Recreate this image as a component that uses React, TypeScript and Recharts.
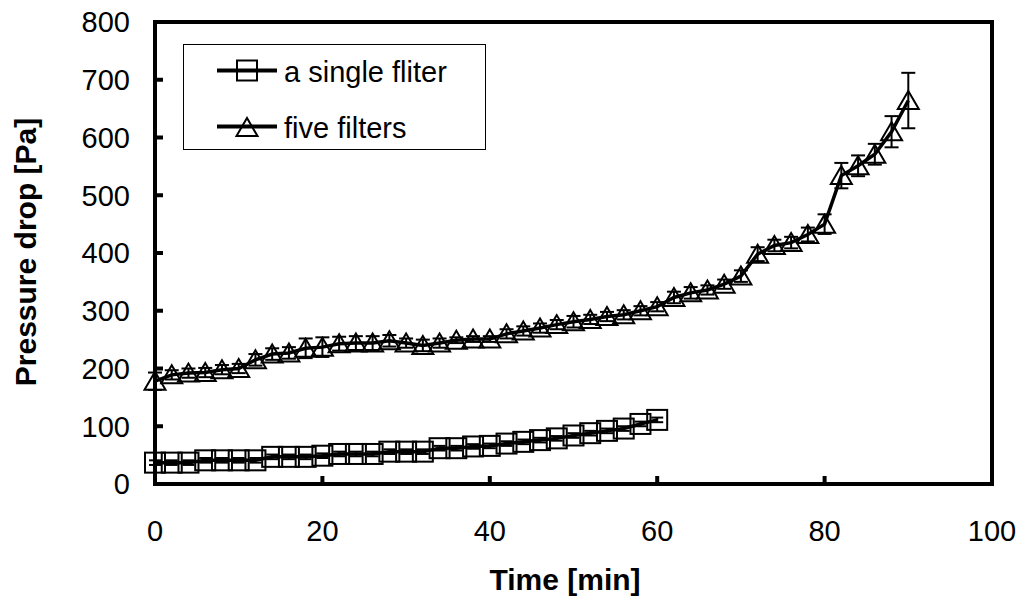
import { LineChart, Line, XAxis, YAxis, ErrorBar, ReferenceArea, Legend, Label } from "recharts";

const FONT = "'Liberation Sans', Arial, sans-serif";

// a single filter
const singleTime = [0, 2, 4, 6, 8, 10, 12, 14, 16, 18, 20, 22, 24, 26, 28, 30, 32, 34, 36, 38, 40, 42, 44, 46, 48, 50, 52, 54, 56, 58, 60];
const singleDrop = [37, 37, 37, 41, 41, 41, 41, 47, 47, 47, 49, 52, 52, 52, 56, 56, 56, 62, 62, 65, 66, 70, 73, 76, 79, 84, 88, 92, 96, 104, 111];
const singleErr = [4, 4, 4, 4, 4, 4, 4, 4, 4, 4, 4, 4, 4, 4, 4, 4, 4, 4, 4, 4, 4, 4, 4, 4, 4, 4, 4, 4, 4, 4, 4];

// five filters
const fiveTime = [0, 2, 4, 6, 8, 10, 12, 14, 16, 18, 20, 22, 24, 26, 28, 30, 32, 34, 36, 38, 40, 42, 44, 46, 48, 50, 52, 54, 56, 58, 60, 62, 64, 66, 68, 70, 72, 74, 76, 78, 80, 82, 84, 86, 88, 90];
const fiveDrop = [178, 189, 192, 193, 198, 200, 215, 225, 227, 235, 237, 243, 244, 244, 248, 244, 240, 244, 249, 251, 251, 260, 265, 270, 276, 281, 285, 290, 293, 300, 307, 323, 331, 336, 346, 360, 398, 413, 418, 432, 450, 534, 551, 571, 610, 664];
const fiveErr = [15, 8, 8, 8, 8, 8, 10, 10, 10, 17, 17, 12, 12, 12, 10, 8, 10, 8, 5, 5, 5, 8, 8, 8, 8, 10, 8, 8, 8, 8, 8, 10, 10, 8, 8, 10, 12, 10, 10, 12, 17, 22, 18, 18, 27, 48];

const xTicks = [0, 20, 40, 60, 80, 100];
const yTicks = [0, 100, 200, 300, 400, 500, 600, 700, 800];

const singleData = singleTime.map((t, i) => ({ t, v: singleDrop[i], e: singleErr[i] }));
const fiveData = fiveTime.map((t, i) => ({ t, v: fiveDrop[i], e: fiveErr[i] }));

function Square({ cx, cy, size = 20 }) {
    const h = size / 2;
    return <rect x={cx - h} y={cy - h} width={size} height={size} fill="none" stroke="#000" strokeWidth={2} />;
}

function Triangle({ cx, cy }) {
    const pts = `${cx},${cy - 9.5} ${cx - 10.5},${cy + 8.5} ${cx + 10.5},${cy + 8.5}`;
    return <polygon points={pts} fill="none" stroke="#000" strokeWidth={2} />;
}

const squareDot = (props) => {
    if (props.cx == null || props.cy == null) return <g key={`s-${props.index}`} />;
    return <g key={`s-${props.index}`}><Square cx={props.cx} cy={props.cy} /></g>;
};

const triangleDot = (props) => {
    if (props.cx == null || props.cy == null) return <g key={`t-${props.index}`} />;
    return <g key={`t-${props.index}`}><Triangle cx={props.cx} cy={props.cy} /></g>;
};

function LegendBox({ payload }) {
    const items = payload || [];
    return (
        <svg width={303} height={106} style={{ display: "block" }}>
            <rect x={0.5} y={0.5} width={302} height={105} fill="#fff" stroke="#000" strokeWidth={1} />
            {items.map((item, i) => {
                const cy = 26.5 + i * 56;
                return (
                    <g key={item.value}>
                        <line x1={34} x2={94} y1={cy} y2={cy} stroke="#000" strokeWidth={4} />
                        {i === 0 ? <Square cx={64} cy={cy} /> : <Triangle cx={64} cy={cy + 1} />}
                        <text x={101} y={cy + 11} fontSize={29} fontFamily={FONT} fill="#000">{item.value}</text>
                    </g>
                );
            })}
        </svg>
    );
}

export default function App() {
    return (
        <div style={{ position: "absolute", left: 0, top: 0, width: 1023, height: 601, background: "#fff", fontFamily: FONT }}>
            <LineChart width={1023} height={601} margin={{ top: 22, right: 31, bottom: 0, left: 0 }}>
                <XAxis
                    dataKey="t"
                    type="number"
                    domain={[0, 100]}
                    ticks={xTicks}
                    allowDuplicatedCategory={false}
                    height={117}
                    axisLine={{ stroke: "#000", strokeWidth: 4 }}
                    tickLine={{ stroke: "#000", strokeWidth: 4 }}
                    tickSize={-8}
                    tickMargin={44}
                    tick={{ fill: "#000", fontSize: 29, fontFamily: FONT }}
                >
                    <Label
                        content={() => (
                            <text x={565} y={590} textAnchor="middle" fontSize={30} fontWeight="bold" fontFamily={FONT} fill="#000">
                                Time [min]
                            </text>
                        )}
                    />
                </XAxis>
                <YAxis
                    type="number"
                    domain={[0, 800]}
                    ticks={yTicks}
                    width={155}
                    axisLine={{ stroke: "#000", strokeWidth: 4 }}
                    tickLine={{ stroke: "#000", strokeWidth: 4 }}
                    tickSize={-8}
                    tickMargin={33}
                    tick={{ fill: "#000", fontSize: 29, fontFamily: FONT }}
                >
                    <Label
                        content={() => (
                            <text
                                x={36}
                                y={252}
                                transform="rotate(-90 36 252)"
                                textAnchor="middle"
                                fontSize={30}
                                fontWeight="bold"
                                fontFamily={FONT}
                                fill="#000"
                            >
                                Pressure drop [Pa]
                            </text>
                        )}
                    />
                </YAxis>
                <ReferenceArea x1={0} x2={100} y1={0} y2={800} fill="none" stroke="#000" strokeWidth={4} ifOverflow="visible" />
                <Legend
                    layout="vertical"
                    align="center"
                    verticalAlign="middle"
                    content={<LegendBox />}
                    wrapperStyle={{ position: "absolute", left: 183, top: 44, width: 303, height: 106 }}
                />
                <Line
                    data={singleData}
                    dataKey="v"
                    name="a single fliter"
                    stroke="#000"
                    strokeWidth={3.5}
                    dot={squareDot}
                    activeDot={false}
                    isAnimationActive={false}
                >
                    <ErrorBar dataKey="e" direction="y" width={6} stroke="#000" strokeWidth={2} isAnimationActive={false} />
                </Line>
                <Line
                    data={fiveData}
                    dataKey="v"
                    name="five filters"
                    stroke="#000"
                    strokeWidth={3.5}
                    dot={triangleDot}
                    activeDot={false}
                    isAnimationActive={false}
                >
                    <ErrorBar dataKey="e" direction="y" width={7} stroke="#000" strokeWidth={2} isAnimationActive={false} />
                </Line>
            </LineChart>
        </div>
    );
}
